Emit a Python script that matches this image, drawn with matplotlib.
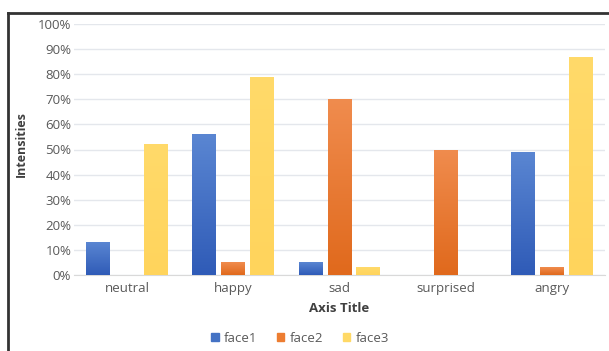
import matplotlib
matplotlib.use("Agg")
import matplotlib.pyplot as plt
import numpy as np
from matplotlib.lines import Line2D
from matplotlib.colors import LinearSegmentedColormap

# Data
emotions = ["neutral", "happy", "sad", "surprised", "angry"]
face1 = [13, 56, 5, 0, 49]
face2 = [0, 5, 70, 50, 3]
face3 = [52, 79, 3, 0, 87]
series_names = ["face1", "face2", "face3"]
colors = ["#4472C4", "#ED7D31", "#FFD966"]
# gradient ends (top, bottom) for the Excel-like fill
grad = [("#5A86D2", "#2F5BB7"), ("#F08C4E", "#E0691C"), ("#FFDA6A", "#FFD45C")]

plt.rcParams['font.family'] = ['Open Sans', 'DejaVu Sans']

fig = plt.figure(figsize=(6.09, 3.51), dpi=100)
ax = fig.add_axes([74 / 609, 76 / 351, 531 / 609, 251 / 351])

x = np.arange(len(emotions))
width = 0.225
spacing = 0.272
grad_img = np.linspace(0, 1, 256).reshape(-1, 1)
for i, (vals, name, c) in enumerate(zip([face1, face2, face3], series_names, colors)):
    bars = ax.bar(x + (i - 1) * spacing, vals, width, color=c, label=name, zorder=3)
    cmap = LinearSegmentedColormap.from_list(name, [grad[i][1], grad[i][0]])
    for b in bars:
        if b.get_height() <= 0:
            continue
        x0, y0 = b.get_x(), b.get_y()
        im = ax.imshow(grad_img, cmap=cmap, aspect="auto", origin="lower",
                       extent=[x0, x0 + b.get_width(), y0, y0 + b.get_height()], zorder=4)
        im.set_clip_path(b)

ax.set_xlim(-0.5, len(emotions) - 0.5)
ax.set_ylim(0, 100)
ax.set_yticks(range(0, 101, 10))
ax.set_yticklabels([f"{v}%" for v in range(0, 101, 10)])
ax.set_xticks(x)
ax.set_xticklabels(emotions)
ax.tick_params(axis='both', length=0, labelsize=9.5, labelcolor="#595959")
ax.tick_params(axis='x', pad=5)
ax.tick_params(axis='y', pad=2)
ax.grid(axis='y', color="#E4E7EC", linewidth=1, zorder=0)
for side in ["top", "right", "left"]:
    ax.spines[side].set_visible(False)
ax.spines["bottom"].set_color("#D9D9D9")

ax.set_xlabel("Axis Title", fontsize=9.5, fontweight="bold", color="#404040", labelpad=5)
ax.set_ylabel("Intensities", fontsize=9, fontweight="bold", color="#404040")
ax.yaxis.set_label_coords((28 - 74) / 531, 0.52)

handles = [plt.Rectangle((0, 0), 1, 1, color=c) for c in colors]
fig.legend(handles, series_names, loc="center", bbox_to_anchor=(300 / 609, 1 - 338 / 351),
           ncol=3, frameon=False, fontsize=9.5, labelcolor="#595959",
           handlelength=0.55, handleheight=0.55, handletextpad=0.4, columnspacing=1.5)

# screenshot frame
fig.add_artist(Line2D([8 / 609, 8 / 609], [0, 1 - 13 / 351], transform=fig.transFigure,
                      color="#333333", linewidth=2))
fig.add_artist(Line2D([8 / 609, 1], [1 - 13 / 351, 1 - 13 / 351], transform=fig.transFigure,
                      color="#333333", linewidth=2))

fig.savefig("out.png", dpi=100)
